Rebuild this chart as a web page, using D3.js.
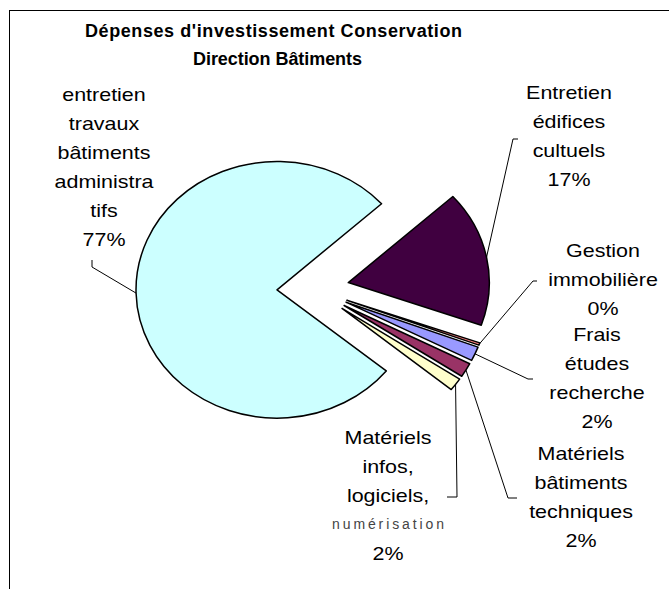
<!DOCTYPE html>
<html>
<head>
<meta charset="utf-8">
<script src="https://cdn.jsdelivr.net/npm/d3@7"></script>
<style>
  html, body { margin: 0; padding: 0; background: #fff; }
  svg { display: block; font-family: "Liberation Sans", Arial, sans-serif; }
</style>
</head>
<body>
<svg id="chart" width="669" height="589"></svg>
<script>
// Budget shares, in the order the slices are laid out clockwise
const categories = [
  "Frais études recherche",
  "Matériels bâtiments techniques",
  "Matériels infos, logiciels, numérisation",
  "entretien travaux bâtiments administratifs",
  "Entretien édifices cultuels",
  "Gestion immobilière"
];
const values = [1.8, 1.8, 1.6, 77.4, 17.1, 0.3];
const colors = ["#9999ff", "#993366", "#ffffcc", "#ccffff", "#400040", "#ff8080"];
// How each category name wraps in its label
const labelLines = [
  ["Frais", "études", "recherche"],
  ["Matériels", "bâtiments", "techniques"],
  ["Matériels", "infos,", "logiciels,", "numérisation"],
  ["entretien", "travaux", "bâtiments", "administra", "tifs"],
  ["Entretien", "édifices", "cultuels"],
  ["Gestion", "immobilière"]
];
const titleLines = ["Dépenses d'investissement Conservation", "Direction Bâtiments"];

const W = 669, H = 589;
const cx = 313, cy = 289, radius = 141, explode = 36, squash = 0.91;
const startDeg = 110.5;

// Label placement: centre x, baselines, leader elbow and end
const labelLayout = [
  { x: 597, ys: [341, 370, 399, 428], leader: [[528, 379], [533, 379]] },
  { x: 581, ys: [460, 489, 518, 547], leader: [[508, 498], [517, 498]] },
  { x: 388, ys: [444, 473, 502, 529, 560], leader: [[457, 497], [447, 497]] },
  { x: 104, ys: [101, 130, 159, 188, 217, 246], leader: [[92, 267], [92, 260]] },
  { x: 569, ys: [99, 128, 157, 186], leader: [[513, 139], [518, 139]] },
  { x: 603, ys: [257, 286, 315], leader: [[533, 281], [537, 281]] }
];

const svg = d3.select("#chart");

// Chart frame
svg.append("rect")
  .attr("x", 9.5).attr("y", 10.5)
  .attr("width", 700).attr("height", 700)
  .attr("fill", "none").attr("stroke", "#000").attr("stroke-width", 1);

// Title
const titleSpec = [{ x: 85, y: 37, len: 377 }, { x: 193, y: 65, len: 169 }];
svg.selectAll("text.title").data(titleLines).join("text")
  .attr("class", "title")
  .attr("x", (d, i) => titleSpec[i].x)
  .attr("y", (d, i) => titleSpec[i].y)
  .attr("textLength", (d, i) => titleSpec[i].len)
  .attr("lengthAdjust", "spacing")
  .attr("font-size", 18)
  .attr("font-weight", "bold")
  .attr("fill", "#000")
  .text(d => d);

// Pie
const total = d3.sum(values);
const start = startDeg * Math.PI / 180;
const pie = d3.pie().sort(null).value(d => d).startAngle(start).endAngle(start + 2 * Math.PI);
const arcs = pie(values);
const arc = d3.arc().innerRadius(0).outerRadius(radius);

const pieG = svg.append("g").attr("transform", `translate(${cx},${cy}) scale(1,${squash})`);
pieG.selectAll("path").data(arcs).join("path")
  .attr("transform", d => {
    const a = (d.startAngle + d.endAngle) / 2;
    return `translate(${Math.sin(a) * explode},${-Math.cos(a) * explode})`;
  })
  .attr("d", arc)
  .attr("fill", (d, i) => colors[i])
  .attr("stroke", "#000")
  .attr("stroke-width", 1.5)
  .attr("stroke-linejoin", "round")
  .attr("vector-effect", "non-scaling-stroke");

// Leader lines from each slice's outer edge to its label
const leaderPts = arcs.map((d, i) => {
  const a = (d.startAngle + d.endAngle) / 2;
  const rr = radius + explode;
  const p0 = [cx + Math.sin(a) * rr, cy - Math.cos(a) * rr * squash];
  return [p0, ...labelLayout[i].leader];
});
svg.selectAll("path.leader").data(leaderPts).join("path")
  .attr("class", "leader")
  .attr("d", d3.line())
  .attr("fill", "none")
  .attr("stroke", "#000")
  .attr("stroke-width", 1);

// Labels: category name lines followed by the rounded percentage
arcs.forEach((d, i) => {
  const L = labelLayout[i];
  const lines = labelLines[i].concat([Math.round(values[i] / total * 100) + "%"]);
  lines.forEach((t, k) => {
    const small = t === "numérisation";
    const g = svg.append("g")
      .attr("transform", `translate(${L.x},${L.ys[k]}) scale(${small ? 1 : 1.16},1)`);
    const txt = g.append("text")
      .attr("text-anchor", "middle")
      .attr("fill", small ? "#444" : "#000")
      .attr("font-size", small ? 14 : 18.5)
      .text(t);
    if (small) {
      txt.attr("x", -56).attr("text-anchor", "start")
        .attr("textLength", 112).attr("lengthAdjust", "spacing");
    }
  });
});
</script>
</body>
</html>
